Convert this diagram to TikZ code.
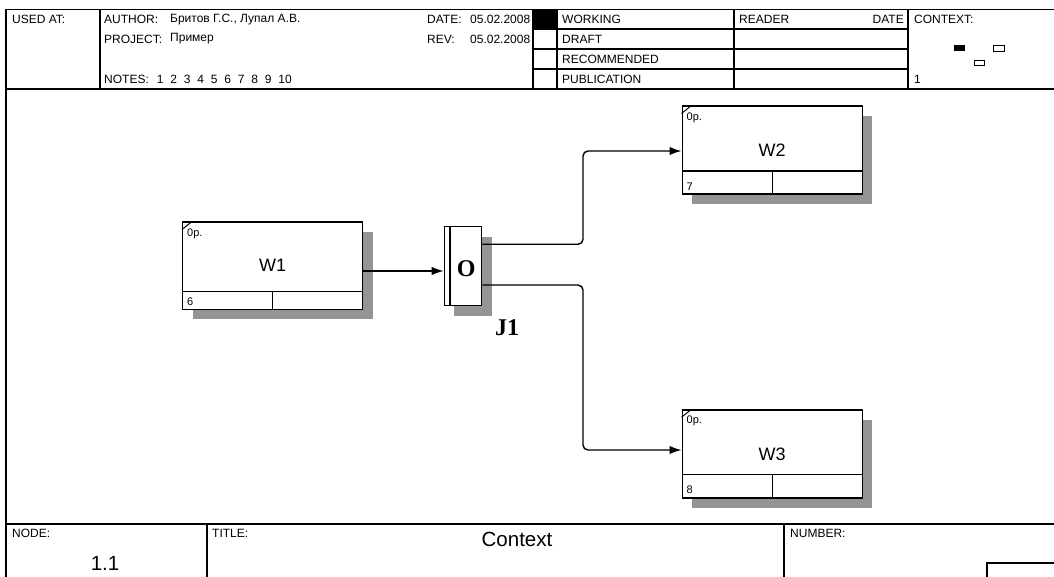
\documentclass[tikz,border=0pt]{standalone}
\usepackage{fontspec}
\setmainfont{Liberation Sans}
\newfontfamily\jfont{Liberation Serif}
\usetikzlibrary{arrows.meta,shadows,positioning}

\begin{document}
\begin{tikzpicture}[
  x=1pt,y=-1pt,
  frame/.style={line width=1.7pt},
  grid/.style={line width=1.2pt},
  txt/.style={font=\fontsize{12}{13}\selectfont, inner sep=0pt, anchor=west},
  big/.style={font=\fontsize{20.5}{22}\selectfont, inner sep=0pt},
  sml/.style={font=\fontsize{11}{12}\selectfont, inner sep=0pt, anchor=west},
  act/.style={draw, fill=white, line width=1.4pt, minimum width=180pt, minimum height=88pt, inner sep=0pt, font=\fontsize{18}{19}\selectfont, drop shadow={shadow xshift=10pt, shadow yshift=-10pt, fill=black!42, opacity=1}},
  junc/.style={draw, fill=white, line width=1.4pt, minimum width=37.4pt, minimum height=79pt, inner sep=0pt, drop shadow={shadow xshift=10pt, shadow yshift=-10pt, fill=black!42, opacity=1}},
  jtxt/.style={font=\jfont\bfseries\fontsize{24}{24}\selectfont, inner sep=0pt},
  arr/.style={line width=1.4pt, -{Latex[length=12pt,width=8.5pt]}}]
\useasboundingbox (0,0) rectangle (1054,577);
\draw[frame] (6,9.5) -- (1054,9.5);
\draw[frame] (6,89) -- (1054,89);
\draw[frame] (6,524) -- (1054,524);
\draw[frame] (6,9.5) -- (6,577);
\foreach \x in {100,533,557,734,908}
  \draw[grid] (\x,9.5) -- (\x,89);
\foreach \y in {29,49,69}
  \draw[grid] (533,\y) -- (908,\y);
\fill (533,9.5) rectangle (557,29);
\node[txt] (used) at (12,19.5) {USED AT:};
\node[txt] (auth) at (104,19.5) {AUTHOR:};
\node[txt] (authv) at (170,19.5) {Бритов Г.С., Лупал А.В.};
\node[txt] (proj) at (104,39) {PROJECT:};
\node[txt] (projv) at (170,39) {Пример};
\node[txt] (notes) at (104,79.5) {NOTES:};
\foreach \i in {1,...,10}
  \node[txt] (n\i) at ({156.7+(\i-1)*13.5},79.5) {\i};
\node[txt] (date) at (427,19.5) {DATE:};
\node[txt] (datev) at (470,19.5) {05.02.2008};
\node[txt] (rev) at (427,39) {REV:};
\node[txt] (revv) at (470,39) {05.02.2008};
\foreach \y/\t in {19.5/WORKING,39/DRAFT,59/RECOMMENDED,79.5/PUBLICATION}
  \node[txt] (st-\t) at (562,\y) {\t};
\node[txt] (rdr) at (739,19.5) {READER};
\node[txt, anchor=east] (rdate) at (904,19.5) {DATE};
\node[txt] (ctx) at (914,19.5) {CONTEXT:};
\node[txt] (ctxn) at (914,79.5) {1};
\fill (954,45) rectangle (965,51);
\draw[line width=1pt] (993,46) rectangle (1004,52);
\draw[line width=1pt] (974,61) rectangle (984,66);
\draw[grid] (207,524) -- (207,577);
\draw[grid] (784,524) -- (784,577);
\draw[grid] (987,577) |- (1054,563);
\node[txt] (node) at (12,533) {NODE:};
\node[txt] (title) at (212,533) {TITLE:};
\node[txt] (numb) at (790,533) {NUMBER:};
\node[big] (nodev) at (105,563) {1.1};
\node[big] (titlev) at (517,539) {Context};
\node[act, minimum height=87pt] (W1) at (272.7,265.7) {W1};
\node[act] (W2) at (772.2,150.2) {W2};
\node[act] (W3) at (772.2,453.9) {W3};
\foreach \n/\h/\k in {W1/18.7/6,W2/24/7,W3/24/8} {
  \draw[line width=1.4pt] ([yshift=\h pt]\n.south west) -- ([yshift=\h pt]\n.south east);
  \draw[line width=1.4pt] ([yshift=\h pt]\n.south) -- (\n.south);
  \draw[line width=1pt] ([yshift=-8pt]\n.north west) -- ([xshift=10pt]\n.north west);
  \node[sml] (\n-c) at ([xshift=5pt,yshift=-12pt]\n.north west) {0p.};
  \node[sml] (\n-k) at ([xshift=5pt,yshift=8.6pt]\n.south west) {\k};
}
\node[junc] (J1) at (463,266.2) {};
\draw[line width=1.4pt] ([xshift=6.4pt]J1.north west) -- ([xshift=6.4pt]J1.south west);
\node[jtxt] (J1-o) at ([xshift=3.2pt,yshift=-2pt]J1.center) {O};
\node[jtxt] (J1-l) at (507,328) {J1};
\coordinate (bu) at (583,151);
\coordinate (bd) at (583,450);
\draw[arr] (W1.east |- 0,271) -- (J1.west |- 0,271);
\draw[arr, rounded corners=5pt] (J1.east |- 0,244.3) -| (bu) -- (W2.west |- bu);
\draw[arr, rounded corners=5pt] (J1.east |- 0,285) -| (bd) -- (W3.west |- bd);
\end{tikzpicture}
\end{document}
